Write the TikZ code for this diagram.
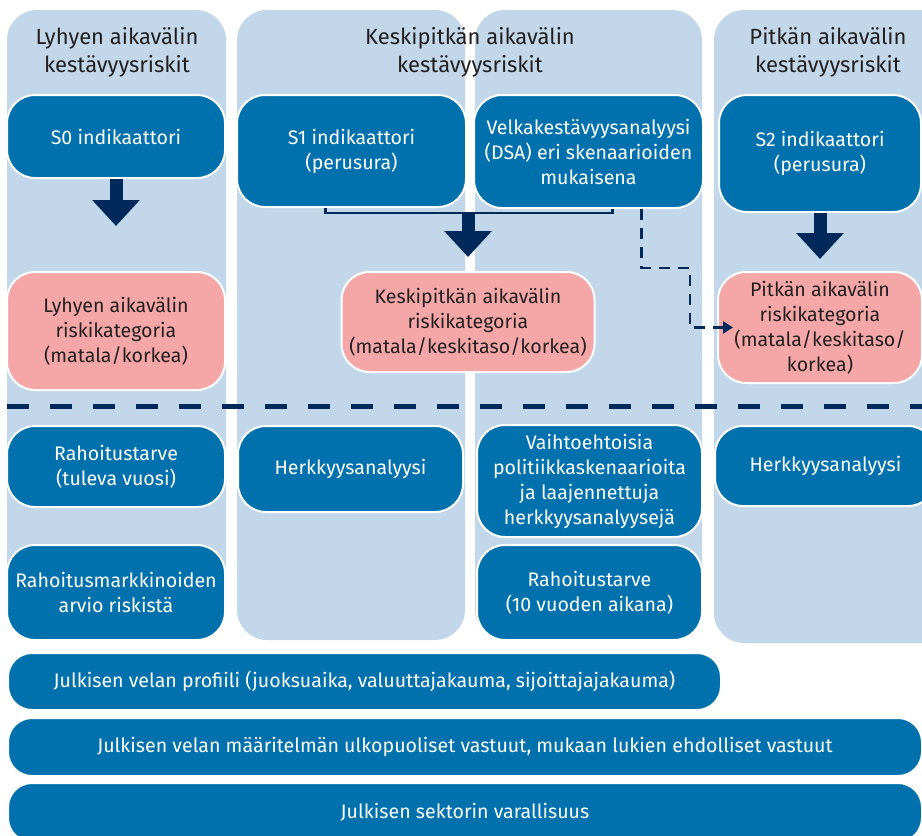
\documentclass[tikz,border=0pt]{standalone}
\usepackage{fontspec}
\setmainfont{Fira Sans}
\usetikzlibrary{arrows.meta}
\definecolor{colbg}{HTML}{C2D7E9}
\definecolor{boxblue}{HTML}{0071AD}
\definecolor{navy}{HTML}{00295B}
\definecolor{riskpink}{HTML}{F5A7A8}
\definecolor{titlegrey}{HTML}{231F20}
\begin{document}
\begin{tikzpicture}[x=1pt,y=-1pt,
    column/.style={fill=colbg, rounded corners=30pt},
    coltitle/.style={text=titlegrey, align=center, font=\fontsize{22}{28}\selectfont},
    bluebox/.style={draw=white, line width=2pt, fill=boxblue, text=white, rounded corners=28pt,
      align=center, inner sep=0pt, font=\fontsize{19.6}{25}\selectfont},
    pinkbox/.style={bluebox, fill=riskpink, text=titlegrey},
    bar/.style={bluebox, rounded corners=24pt},
    blockarrow/.style={draw=navy, line width=13pt, -{Triangle[width=46pt,length=26pt]}},
    bracket/.style={draw=navy, line width=2.5pt},
    dashlink/.style={draw=navy, line width=2.5pt, dash pattern=on 11pt off 8pt, -{Triangle[width=12pt,length=10pt]}},
    separator/.style={draw=navy, line width=5pt, dash pattern=on 22pt off 21pt}]
	\useasboundingbox (0,0) rectangle (922,836);
	\clip (0,0) rectangle (922,836);
	% columns
	\foreach \xa/\xb/\yb in {7/226/640, 237/465/640, 475/702/640, 714/960/643}
	  {
	      \fill[column] (\xa,10) rectangle (\xb,\yb);
	  }
	\node[coltitle] (t1) at (117,52) {Lyhyen aikavälin\\kestävyysriskit};
	\node[coltitle] (t2) at (470,52) {Keskipitkän aikavälin\\kestävyysriskit};
	\node[coltitle] (t3) at (828,52) {Pitkän aikavälin\\kestävyysriskit};

	\node[bluebox, minimum width=218pt, minimum height=83pt] (s0) at (116,136.5) {S0 indikaattori};
	\node[bluebox, minimum width=229pt, minimum height=112pt] (s1) at (351.5,151) {S1 indikaattori\\(perusura)};
	\node[bluebox, minimum width=229pt, minimum height=113pt] (dsa) at (588.5,151.5) {Velkakestävyysanalyysi\\(DSA) eri skenaarioiden\\mukaisena};
	\node[bluebox, minimum width=202pt, minimum height=117pt] (s2) at (820,153.5) {S2 indikaattori\\(perusura)};

	\node[pinkbox, minimum width=218pt, minimum height=118pt] (lyhyt) at (116,331) {Lyhyen aikavälin\\riskikategoria\\(matala/korkea)};
	\node[pinkbox, minimum width=253pt, minimum height=100pt] (keski) at (468,322) {Keskipitkän aikavälin\\riskikategoria\\(matala/keskitaso/korkea)};
	\node[pinkbox, minimum width=204pt, minimum height=111pt] (pitka) at (820,327.5) {Pitkän aikavälin\\riskikategoria\\(matala/keskitaso/\\korkea)};

	\draw[blockarrow] (s0.south) -- ([yshift=45pt]lyhyt.north);
	\coordinate (brm) at (468,213);
	\draw[bracket] ([xshift=-26pt]s1.south) |- (brm) -| ([xshift=24pt]dsa.south);
	\draw[blockarrow] (brm) -- ([yshift=14pt]keski.north);
	\draw[blockarrow] (s2.south) -- ([yshift=12pt]pitka.north);
	\coordinate (bend) at (690,268);
	\draw[dashlink] ([xshift=53pt]dsa.south) |- (bend) |- ([xshift=16pt]pitka.west);

	% divider
	\coordinate (sepl) at (7,406);
	\coordinate (sepr) at (922,406);
	\draw[separator] (sepl) -- (sepr);

	\node[bluebox, minimum width=218pt, minimum height=81pt] (rt1) at (116,466.5) {Rahoitustarve\\(tuleva vuosi)};
	\node[bluebox, minimum width=218pt, minimum height=95pt] (rmk) at (116,592.5) {Rahoitusmarkkinoiden\\arvio riskistä};
	\node[bluebox, minimum width=225pt, minimum height=86pt] (herk1) at (350.5,469) {Herkkyysanalyysi};
	\node[bluebox, minimum width=225pt, minimum height=112pt] (vaiht) at (589.5,481) {Vaihtoehtoisia\\politiikkaskenaarioita\\ja laajennettuja\\herkkyysanalyysejä};
	\node[bluebox, minimum width=225pt, minimum height=95pt] (rt10) at (589.5,592.5) {Rahoitustarve\\(10 vuoden aikana)};
	\node[bluebox, minimum width=221pt, minimum height=80pt] (herk2) at (825.5,466) {Herkkyysanalyysi};

	\node[bar, minimum width=713pt, minimum height=57pt] (prof) at (364.5,681.5) {Julkisen velan profiili (juoksuaika, valuuttajakauma, sijoittajajakauma)};
	\node[bar, minimum width=914pt, minimum height=58pt] (ulko) at (465,747) {Julkisen velan määritelmän ulkopuoliset vastuut, mukaan lukien ehdolliset vastuut};
	\node[bar, minimum width=914pt, minimum height=59pt] (varall) at (465,812.5) {Julkisen sektorin varallisuus};
\end{tikzpicture}
\end{document}
